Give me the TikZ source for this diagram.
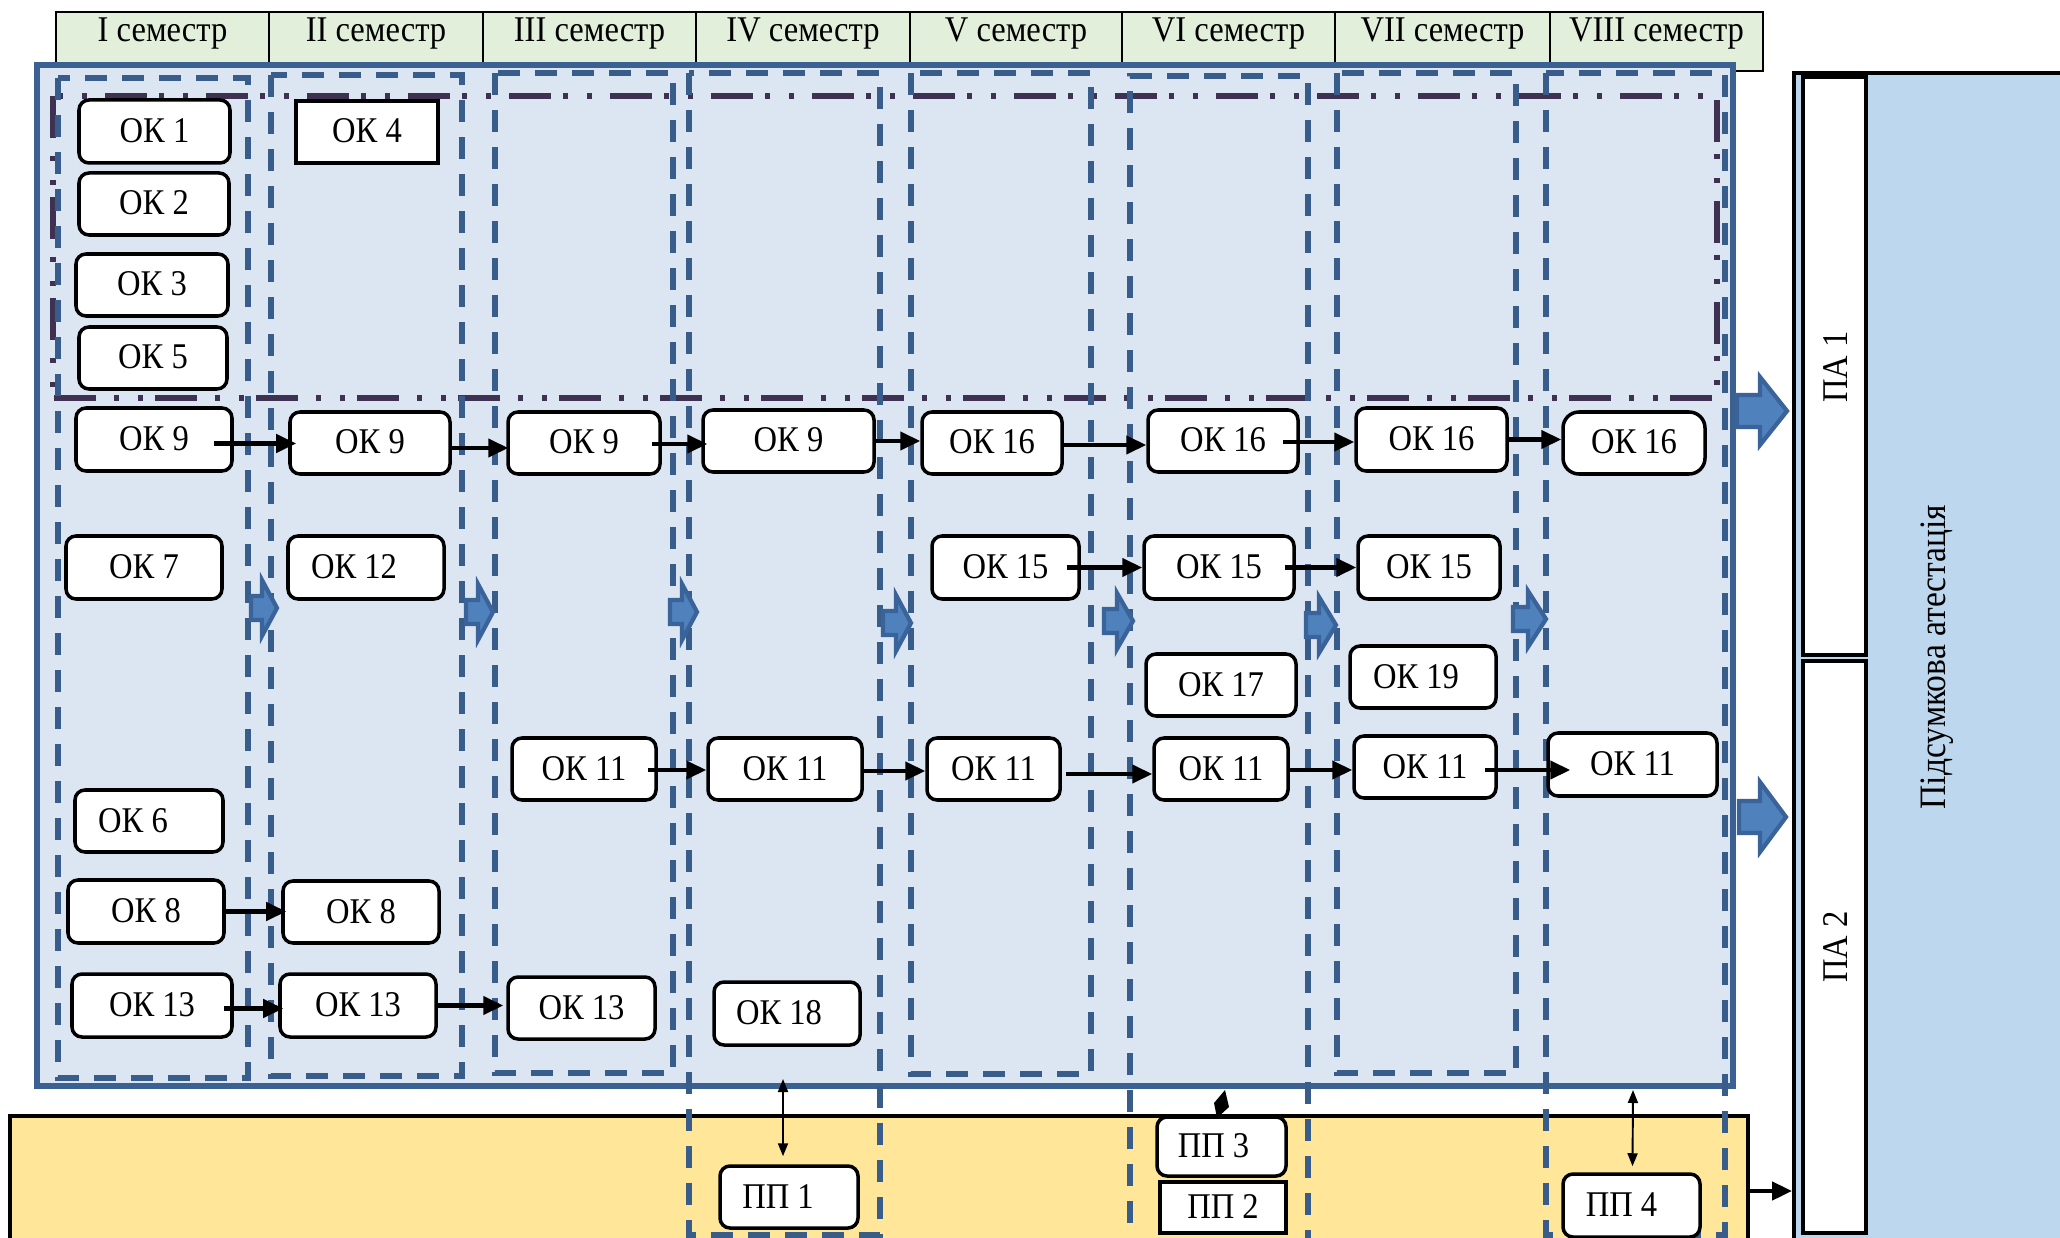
\documentclass[tikz,border=0pt]{standalone}
\usepackage{fontspec}
\setmainfont{Liberation Serif}[FakeStretch=0.9]
\usetikzlibrary{arrows.meta,fit,calc}
\definecolor{hdr}{HTML}{E2EFDA}
\definecolor{mainfill}{HTML}{DCE6F2}
\definecolor{mainline}{HTML}{3B6192}
\definecolor{dashblue}{HTML}{385D8A}
\definecolor{dashpurple}{HTML}{3F3151}
\definecolor{yel}{HTML}{FFE699}
\definecolor{pafill}{HTML}{BDD7EE}
\definecolor{bafill}{HTML}{4F81BD}
\definecolor{baline}{HTML}{3A6399}
\newcommand\ob[8][okbox]{%
  \node[#1, fit={(#3,#4)(#5,#6)}] (#2) {};
  \node[lbl, anchor=base] (#2t) at ($(#2.center)+(#7,11)$) {#8};}
\newcommand\hc[6]{%
  \node[hcell, fit={(#2,#3)(#4,#5)}] (#1) {};
  \node[hlbl, anchor=base] (#1t) at (#1.center |- hbase) {#6};}
\newcommand\barr[6]{%
  \draw[barrow] (#1,{#4-#5}) -- (#3,{#4-#5}) -- (#3,{#4-#6}) -- (#2,#4)
    -- (#3,{#4+#6}) -- (#3,{#4+#5}) -- (#1,{#4+#5}) -- cycle;}
\begin{document}
\begin{tikzpicture}[x=0.1mm,y=-0.1mm,
  okbox/.style={draw=black, line width=1pt, fill=white, rounded corners=1mm, inner sep=0pt},
  rbox/.style={draw=black, line width=1pt, fill=white, rounded corners=1.6mm, inner sep=0pt},
  sqbox/.style={draw=black, line width=1pt, fill=white, inner sep=0pt},
  lbl/.style={font=\fontsize{10.3}{12}\selectfont, inner sep=0pt},
  hcell/.style={draw=black, line width=0.7pt, fill=hdr, inner sep=0pt},
  hlbl/.style={font=\fontsize{10.3}{12}\selectfont, inner sep=0pt},
  colbox/.style={draw=dashblue, line width=1.6pt, dash pattern=on 2.2mm off 1.5mm},
  ddline/.style={draw=dashpurple, line width=1.5pt, dash pattern=on 4.2mm off 1.8mm on 0.5mm off 1.9mm on 0.5mm off 1.2mm},
  flow/.style={-{Triangle[length=2mm,width=1.8mm]}, line width=1.2pt},
  dbl/.style={{Triangle[length=1.3mm,width=1mm]}-{Triangle[length=1.3mm,width=1mm]}, line width=0.55pt},
  barrow/.style={fill=bafill, draw=baline, line width=1.2pt, line join=miter},
  panel/.style={draw=black, line width=1.1pt, fill=pafill, inner sep=0pt},
  pabox/.style={draw=black, line width=1pt, fill=white, inner sep=0pt},
  yelbox/.style={draw=black, line width=1.1pt, fill=yel, inner sep=0pt},
  mainbox/.style={draw=mainline, line width=1.5pt, fill=mainfill, inner sep=0pt}]
\useasboundingbox (0,0) rectangle (2060,1238);
\coordinate (hbase) at (0,42);
% header
\hc{h8}{1550}{12}{1763}{71}{VIII семестр}
\hc{h1}{56}{12}{269}{63}{I семестр}
\hc{h2}{269}{12}{483}{63}{II семестр}
\hc{h3}{483}{12}{696}{63}{III семестр}
\hc{h4}{696}{12}{910}{63}{IV семестр}
\hc{h5}{910}{12}{1122}{63}{V семестр}
\hc{h6}{1122}{12}{1335}{63}{VI семестр}
\hc{h7}{1335}{12}{1550}{63}{VII семестр}
% right panel
\node[panel, fit={(1794,73)(2090,1270)}] (panel) {};
\node[pabox, fit={(1803,77)(1866,655)}] (pa1) {};
\node[pabox, fit={(1803,661)(1866,1233)}] (pa2) {};
\node[lbl, rotate=90, anchor=base] (pa1t) at (1847,367) {ПА 1};
\node[lbl, rotate=90, anchor=base] (pa2t) at (1847,947) {ПА 2};
\node[font=\fontsize{10.6}{12}\selectfont, inner sep=0pt, rotate=90, anchor=base] (pat) at (1945,657) {Підсумкова атестація};
% yellow box
\node[yelbox, fit={(10,1116)(1748,1270)}] (yb) {};
% main box
\node[mainbox, fit={(37,65)(1733,1086)}] (mainb) {};
% dash-dot frame
\draw[ddline] (53,96) rectangle (1717,398);
% semester dashed frames
\draw[colbox] (58,78) rectangle (248,1078);
\draw[colbox] (271,75) rectangle (462,1076);
\draw[colbox] (495,73) rectangle (673,1073);
\draw[colbox] (689,73) rectangle (880,1235);
\draw[colbox] (911,73) rectangle (1091,1074);
\draw[colbox] (1130,1260) -- (1130,76) -- (1308,76) -- (1308,1260);
\draw[colbox] (1337,73) rectangle (1516,1073);
\draw[colbox] (1546,73) rectangle (1725,1235);
% block arrows
\barr{251}{277}{262}{608}{12}{28}
\barr{466}{493}{478}{612}{12}{28}
\barr{670}{697}{682}{612}{12}{28}
\barr{883}{911}{896}{623}{12}{28}
\barr{1104}{1133}{1117}{621}{12}{28}
\barr{1306}{1336}{1319}{625}{12}{28}
\barr{1513}{1546}{1528}{619}{12}{28}
\barr{1737}{1787}{1760}{411}{16}{34}
\barr{1739}{1786}{1760}{817}{16}{35}
% nodes: semester I
\ob{k1}{79}{100}{230}{163}{0}{ОК 1}
\ob{k2}{79}{173}{229}{235}{0}{ОК 2}
\ob{k3}{76}{254}{228}{316}{0}{ОК 3}
\ob{k5}{79}{327}{227}{389}{0}{ОК 5}
\ob{k9a}{76}{408}{232}{471}{0}{ОК 9}
\ob{k7}{66}{536}{222}{599}{0}{ОК 7}
\ob{k6}{75}{790}{223}{852}{-16}{ОК 6}
\ob{k8a}{68}{880}{224}{943}{0}{ОК 8}
\ob{k13a}{72}{974}{232}{1037}{0}{ОК 13}
% II
\ob[sqbox]{k4}{296}{101}{438}{163}{0}{ОК 4}
\ob{k9b}{290}{412}{450}{474}{0}{ОК 9}
\ob{k12}{288}{536}{444}{599}{-12}{ОК 12}
\ob{k8b}{283}{881}{439}{943}{0}{ОК 8}
\ob{k13b}{280}{974}{436}{1037}{0}{ОК 13}
% III
\ob{k9c}{508}{412}{660}{474}{0}{ОК 9}
\ob{k11c}{512}{738}{656}{800}{0}{ОК 11}
\ob{k13c}{508}{977}{655}{1039}{0}{ОК 13}
% IV
\ob{k9d}{703}{410}{874}{472}{0}{ОК 9}
\ob{k11d}{708}{738}{862}{800}{0}{ОК 11}
\ob{k18}{714}{982}{860}{1045}{-8}{ОК 18}
\ob{pp1}{720}{1166}{858}{1228}{-11}{ПП 1}
% V
\ob{k16e}{922}{412}{1062}{474}{0}{ОК 16}
\ob{k15e}{932}{536}{1079}{599}{0}{ОК 15}
\ob{k11e}{927}{738}{1060}{800}{0}{ОК 11}
% VI
\ob{k16f}{1148}{410}{1298}{472}{0}{ОК 16}
\ob{k15f}{1144}{536}{1294}{599}{0}{ОК 15}
\ob{k17}{1146}{654}{1296}{716}{0}{ОК 17}
\ob{k11f}{1154}{738}{1288}{800}{0}{ОК 11}
\ob{pp3}{1157}{1117}{1286}{1176}{-8}{ПП 3}
\ob[sqbox]{pp2}{1160}{1182}{1286}{1233}{0}{ПП 2}
% VII
\ob{k16g}{1356}{408}{1507}{471}{0}{ОК 16}
\ob{k15g}{1358}{536}{1500}{599}{0}{ОК 15}
\ob{k19}{1350}{646}{1496}{708}{-7}{ОК 19}
\ob{k11g}{1354}{736}{1496}{798}{0}{ОК 11}
% VIII
\ob[rbox]{k16h}{1563}{412}{1705}{474}{0}{ОК 16}
\ob{k11h}{1548}{733}{1717}{796}{0}{ОК 11}
\ob{pp4}{1563}{1174}{1700}{1237}{-10}{ПП 4}
% flow arrows
\draw[flow] ($(k9a.east)+(-20,4)$) -- ($(k9a.east -| k9b.west)+(8,4)$);
\draw[flow] ($(k9b.east)+(-2,5)$) -- ($(k9b.east -| k9c.west)+(2,5)$);
\draw[flow] ($(k9c.east)+(-10,1)$) -- ($(k9c.east -| k9d.west)+(6,1)$);
\draw[flow] (k9d.east) -- (k9d.east -| k16e.west);
\draw[flow] ($(k16e.east)+(0,2)$) -- ($(k16e.east -| k16f.west)+(0,2)$);
\draw[flow] ($(k16f.east)+(-17,1)$) -- ($(k16f.east -| k16g.west)+(0,1)$);
\draw[flow] ($(k16g.east)+(-3,0)$) -- (k16g.east -| k16h.west);
\draw[flow] ($(k15e.east)+(-14,0)$) -- (k15e.east -| k15f.west);
\draw[flow] ($(k15f.east)+(-11,0)$) -- (k15f.east -| k15g.west);
\draw[flow] ($(k11c.east)+(-10,1)$) -- ($(k11c.east -| k11d.west)+(0,1)$);
\draw[flow] ($(k11d.east)+(0,2)$) -- ($(k11d.east -| k11e.west)+(0,2)$);
\draw[flow] ($(k11e.east)+(4,5)$) -- ($(k11e.east -| k11f.west)+(0,5)$);
\draw[flow] ($(k11f.east)+(0,1)$) -- ($(k11f.east -| k11g.west)+(0,1)$);
\draw[flow] ($(k11g.east)+(-13,3)$) -- ($(k11g.east -| k11h.west)+(24,3)$);
\draw[flow] (k8a.east) -- ($(k8a.east -| k8b.west)+(5,0)$);
\draw[flow] ($(k13a.east)+(-10,3)$) -- ($(k13a.east -| k13b.west)+(5,3)$);
\draw[flow] (k13b.east) -- ($(k13b.east -| k13c.west)+(-3,0)$);
% links to practice
\coordinate (pp1top) at (783,1079);
\draw[dbl] (pp1top) -- ($(pp1.north)+(-6,-8)$);
\coordinate (pp4top) at (1633,1090);
\draw[dbl] (pp4top) -- ($(pp4.north)+(1,-6)$);
\fill (1225,1090) -- (1229,1107) -- (1217,1118) -- (1214,1103) -- cycle;
\coordinate (ya) at (0,1191);
\draw[flow] (yb.east |- ya) -- (panel.west |- ya);
\end{tikzpicture}
\end{document}
